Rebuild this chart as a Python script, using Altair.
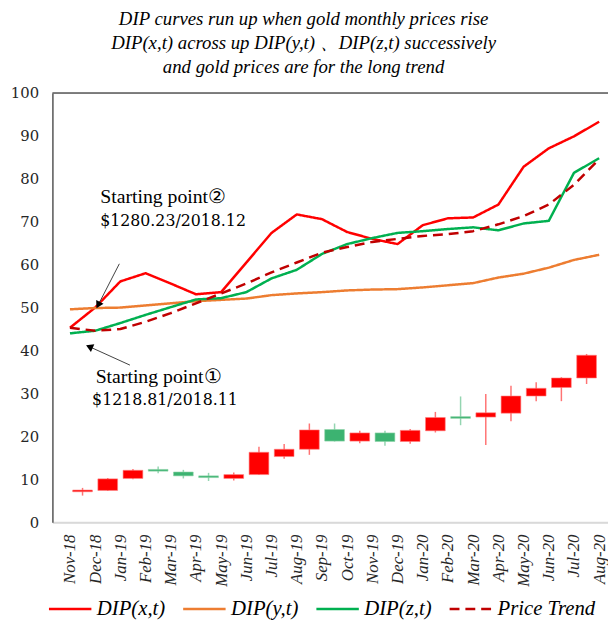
import altair as alt
import pandas as pd

MONTHS = ["Nov-18", "Dec-18", "Jan-19", "Feb-19", "Mar-19", "Apr-19", "May-19", "Jun-19",
          "Jul-19", "Aug-19", "Sep-19", "Oct-19", "Nov-19", "Dec-19", "Jan-20", "Feb-20",
          "Mar-20", "Apr-20", "May-20", "Jun-20", "Jul-20", "Aug-20"]

SERIES = ["DIP(x,t)", "DIP(y,t)", "DIP(z,t)", "Price Trend"]
DIP_X = [45.3, 50.0, 56.1, 58.0, 55.6, 53.1, 53.6, 60.5, 67.4, 71.7, 70.6, 67.6, 66.0, 64.8,
         69.2, 70.8, 71.0, 74.0, 82.8, 87.1, 89.9, 93.3]
DIP_Y = [49.6, 49.9, 50.0, 50.5, 51.0, 51.5, 51.8, 52.1, 52.9, 53.3, 53.6, 54.0, 54.2, 54.3,
         54.7, 55.2, 55.7, 57.0, 57.9, 59.3, 61.1, 62.3]
DIP_Z = [44.0, 44.6, 46.4, 48.3, 50.1, 51.9, 52.2, 53.6, 56.8, 58.8, 62.5, 64.8, 66.2, 67.4,
         67.8, 68.3, 68.7, 68.0, 69.6, 70.2, 81.4, 84.8]
TREND = [45.3, 44.6, 45.0, 46.7, 48.7, 51.0, 53.3, 55.6, 58.2, 60.5, 62.8, 64.1, 65.3, 66.0,
         66.7, 67.1, 67.8, 69.4, 71.3, 74.0, 78.6, 84.6]

# monthly candles (21 of them, drawn between the monthly points)
C_OPEN = [7.1, 7.4, 10.2, 12.3, 11.7, 10.8, 10.2, 11.1, 15.3, 17.0, 21.6, 18.9, 20.8, 18.8,
          21.3, 24.6, 24.5, 25.4, 29.4, 31.4, 33.6]
C_CLOSE = [7.5, 10.1, 12.1, 11.9, 10.8, 10.4, 11.1, 16.3, 17.0, 21.5, 18.9, 20.8, 18.8, 21.4,
           24.4, 24.2, 25.5, 29.4, 31.2, 33.6, 38.9]
C_HIGH = [8.0, 10.3, 12.4, 13.0, 12.2, 11.5, 11.6, 17.6, 18.2, 23.0, 23.0, 21.3, 21.3, 21.7,
          25.7, 29.3, 29.9, 31.8, 32.6, 33.8, 39.2]
C_LOW = [6.2, 7.3, 10.0, 11.4, 10.2, 9.6, 9.7, 11.0, 14.8, 15.7, 18.8, 18.4, 17.8, 18.3,
         20.9, 22.6, 18.0, 23.5, 28.2, 28.2, 32.2]

TITLE = ["DIP curves run up when gold monthly prices rise",
         "DIP(x,t) across up DIP(y,t) \u3001DIP(z,t) successively",
         "and gold prices are for the long trend"]

SERIF = "Liberation Serif"
CAMBRIA = "DejaVu Serif"

# annotations (data units)
ANN_TEXT = ["Starting point\u2461", "$1280.23/2018.12", "Starting point\u2460", "$1218.81/2018.11"]
ANN_X = [1.2, 1.2, 1.02, 0.88]
ANN_Y = [74.4, 69.0, 32.4, 27.2]
ANN_FONT = [SERIF, CAMBRIA, SERIF, CAMBRIA]
ANN_SIZE = [20, 16, 20, 16]
ARROW_X1 = [1.96, 2.38]
ARROW_Y1 = [60.2, 36.6]
ARROW_X2 = [1.12, 0.77]
ARROW_Y2 = [50.6, 40.9]
ARROW_ANGLE = [208, 294]

COLORS = ["#FF0000", "#ED7D31", "#00B050", "#C00000"]

W, H = 563, 435
XDOM = [-0.5, W / 26 - 0.5]

rows = []
for name, vals in zip(SERIES, [DIP_X, DIP_Y, DIP_Z, TREND]):
    for i, v in enumerate(vals):
        rows.append({"series": name, "idx": i, "value": v, "order": SERIES.index(name)})
lines_df = pd.DataFrame(rows)

cdf = pd.DataFrame({"pos": [i + 0.5 for i in range(len(C_OPEN))],
                    "open": C_OPEN, "close": C_CLOSE, "high": C_HIGH, "low": C_LOW})

ann_df = pd.DataFrame({"text": ANN_TEXT, "x": ANN_X, "y": ANN_Y})
arr_df = pd.DataFrame({"x1": ARROW_X1, "y1": ARROW_Y1, "x2": ARROW_X2, "y2": ARROW_Y2,
                       "angle": ARROW_ANGLE})

label_expr = "[" + ",".join("'%s'" % m for m in MONTHS) + "][datum.value]"

xscale = alt.Scale(domain=XDOM, nice=False, zero=False)
yscale = alt.Scale(domain=[0, 100], nice=False)

x_axis = alt.Axis(values=list(range(len(MONTHS))), labelExpr=label_expr, labelAngle=270,
                  labelFont=SERIF, labelFontStyle="italic", labelFontSize=17,
                  labelColor="#262626", labelPadding=12, ticks=False, grid=False,
                  domainColor="#D9D9D9", domainWidth=2, labelOverlap=False, labelFlush=False,
                  labelBound=False, title=None)
y_axis = alt.Axis(values=list(range(0, 101, 10)), labelFont=CAMBRIA, labelFontSize=15,
                  labelColor="#262626", labelPadding=14, ticks=False, grid=False,
                  domainColor="#595959", domainWidth=1.5, title=None)

up_color = alt.condition("datum.close >= datum.open", alt.value("#FF0000"), alt.value("#3CB371"))

wicks = alt.Chart(cdf).mark_rule(strokeWidth=1.5, opacity=0.55).encode(
    x=alt.X("pos:Q", scale=xscale, axis=x_axis),
    y=alt.Y("low:Q", scale=yscale, axis=y_axis),
    y2="high:Q",
    color=up_color,
)
bodies = alt.Chart(cdf).mark_bar(size=20, strokeWidth=0.6).encode(
    x=alt.X("pos:Q", scale=xscale, axis=x_axis),
    y=alt.Y("open:Q", scale=yscale, axis=y_axis),
    y2="close:Q",
    color=up_color,
    stroke=alt.condition("datum.close >= datum.open", alt.value("#FF8080"), alt.value("#8FD3A8")),
)

legend = alt.Legend(orient="none", legendX=-5, legendY=500, direction="horizontal", columns=4,
                    title=None, symbolType="stroke", symbolSize=1849, symbolStrokeWidth=3,
                    labelFont=SERIF, labelFontStyle="italic", labelFontSize=21,
                    labelColor="#000000", labelOffset=4, columnPadding=12, labelLimit=200)

lines = alt.Chart(lines_df).mark_line(strokeJoin="round").encode(
    x=alt.X("idx:Q", scale=xscale, axis=x_axis),
    y=alt.Y("value:Q", scale=yscale, axis=y_axis),
    color=alt.Color("series:N", scale=alt.Scale(domain=SERIES, range=COLORS), legend=legend),
    strokeDash=alt.StrokeDash("series:N", scale=alt.Scale(domain=SERIES,
                              range=[[1, 0], [1, 0], [1, 0], [10, 6]]), legend=legend),
    strokeWidth=alt.StrokeWidth("series:N", scale=alt.Scale(domain=SERIES, range=[2.5, 2.5, 2.5, 3.8]),
                                legend=None),
    order="order:Q",
)

top_border = alt.Chart(pd.DataFrame({"a": [0]})).mark_rule(color="#595959", strokeWidth=1.5).encode(
    x=alt.value(0), x2=alt.value(W), y=alt.value(0)
)

arrow_lines = alt.Chart(arr_df).mark_rule(color="#404040", strokeWidth=1).encode(
    x=alt.X("x1:Q", scale=xscale, axis=x_axis), x2="x2:Q",
    y=alt.Y("y1:Q", scale=yscale, axis=y_axis), y2="y2:Q",
)
arrow_heads = alt.Chart(arr_df).mark_point(shape="triangle-up", filled=True, color="#000000",
                                           size=70, opacity=1).encode(
    x=alt.X("x2:Q", scale=xscale, axis=x_axis),
    y=alt.Y("y2:Q", scale=yscale, axis=y_axis),
    angle=alt.Angle("angle:Q", scale=None),
)

texts = []
for i in range(len(ANN_TEXT)):
    texts.append(alt.Chart(ann_df.iloc[[i]]).mark_text(
        align="left", baseline="alphabetic", font=ANN_FONT[i], fontSize=ANN_SIZE[i], color="#000000"
    ).encode(
        x=alt.X("x:Q", scale=xscale, axis=x_axis),
        y=alt.Y("y:Q", scale=yscale, axis=y_axis),
        text="text:N",
    ))

chart = alt.layer(wicks, bodies, lines, top_border, arrow_lines, arrow_heads, *texts).properties(
    width=W, height=H,
    padding={"left": 45, "top": 82, "right": 0, "bottom": 96},
    autosize=alt.AutoSizeParams(type="none"),
    title=alt.TitleParams(text=TITLE, font=SERIF, fontStyle="italic", fontSize=19,
                          fontWeight="normal", lineHeight=24.5, anchor="middle", dx=-27,
                          offset=9, color="#000000"),
).configure_view(stroke=None).configure(background="white").configure_axisX(labelOverlap=False)

chart.save("out.html", embed_options={"renderer": "svg", "actions": False})
